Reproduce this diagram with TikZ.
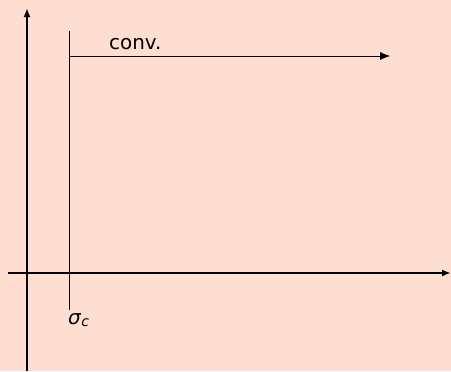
\documentclass[tikz,border=0pt]{standalone}
\usepackage{fontspec}
\setmainfont{DejaVu Sans}
\usetikzlibrary{arrows.meta}
\definecolor{bgpink}{RGB}{255,222,210}
\definecolor{thin}{RGB}{85,85,85}
\begin{document}
\begin{tikzpicture}[x=1bp,y=-1bp,
  axis/.style={line width=1.8bp,black,-{Latex[length=9bp,width=7bp]}},
  thinline/.style={line width=0.9bp,thin},
  thinarrow/.style={line width=0.9bp,thin,-{Latex[length=10bp,width=8bp,black]}},
  lbl/.style={inner sep=0pt,font=\fontsize{20}{23}\selectfont}]
\fill[bgpink] (0,0) rectangle (451,371);
\useasboundingbox (0,0) rectangle (451,371);
\coordinate (ybot) at (27,371);
\coordinate (ytop) at (27,8);
\coordinate (xl) at (8,273);
\coordinate (xr) at (451,273);
\coordinate (vtop) at (69,31);
\coordinate (vbot) at (69,310);
\coordinate (hs) at (69,56);
\coordinate (he) at (390,56);
\draw[axis] (ybot) -- (ytop);
\draw[axis] (xl) -- (xr);
\draw[thinline] (vtop) -- (vbot);
\draw[thinarrow] (hs) -- (he);
\node[lbl,anchor=base west] (conv) at (109,49) {conv.};
\node[lbl,anchor=base west] (sigma) at (68,324) {\textit{σ}\raisebox{-2bp}{\fontsize{14}{16}\selectfont\textit{c}}};
\end{tikzpicture}
\end{document}
